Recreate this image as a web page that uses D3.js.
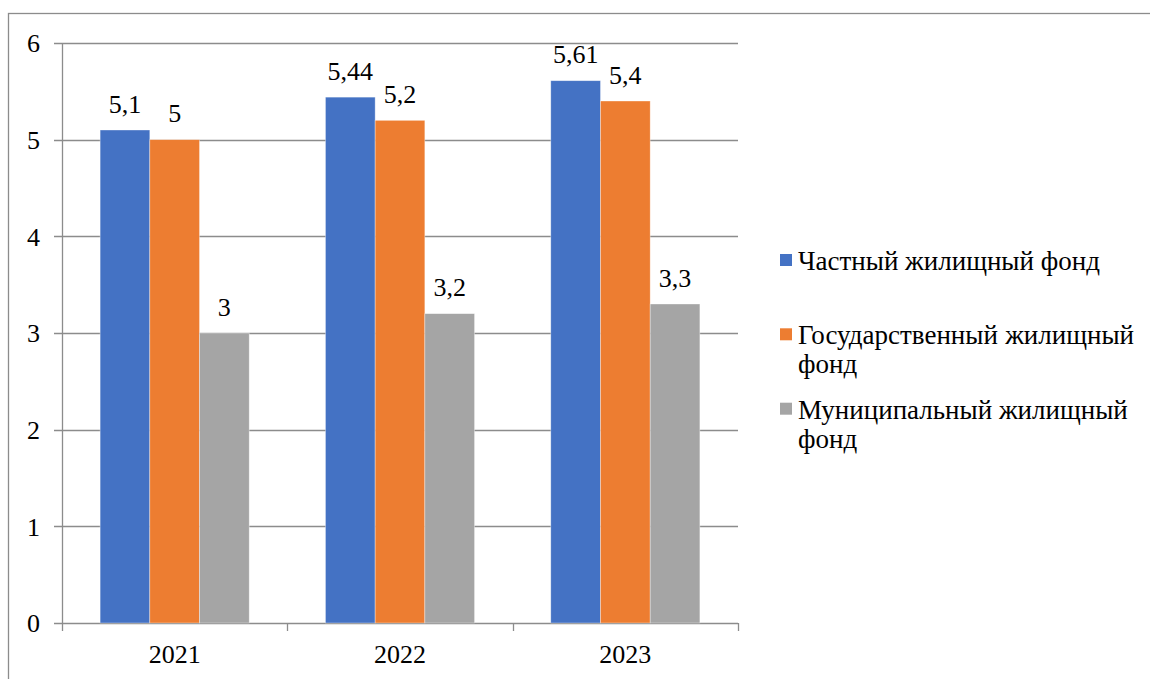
<!DOCTYPE html>
<html><head><meta charset="utf-8">
<script src="https://cdn.jsdelivr.net/npm/d3@7"></script>
<style>body{margin:0;background:#fff;} svg{display:block;}</style>
</head><body>
<svg id="chart" width="1150" height="679"></svg>
<script>
const categories = ["2021", "2022", "2023"];
const seriesNames = ["Частный жилищный фонд", "Государственный жилищный фонд", "Муниципальный жилищный фонд"];
const privateFund = [5.1, 5.44, 5.61];
const stateFund = [5, 5.2, 5.4];
const municipalFund = [3, 3.2, 3.3];
const yTicks = [0, 1, 2, 3, 4, 5, 6];
const legendLines = [["Частный жилищный фонд"], ["Государственный жилищный", "фонд"], ["Муниципальный жилищный", "фонд"]];
const legendLineEnds = [[1097], [1134], [1124]];
const colors = ["#4472C4", "#ED7D31", "#A5A5A5"];

const seriesValues = [privateFund, stateFund, municipalFund];
const svg = d3.select("#chart");
const FS = 26;
const FF = "'Liberation Serif'";

svg.append("rect").attr("x", 8.5).attr("y", 13.5).attr("width", 1300).attr("height", 800)
  .attr("fill", "none").attr("stroke", "#8c8c8c").attr("stroke-width", 1.3);

const x0 = d3.scaleBand().domain(categories).range([62, 738]).padding(0);
const x1 = d3.scaleBand().domain(d3.range(3)).range([0, x0.bandwidth()]).paddingInner(0).paddingOuter(0.767);
const y = d3.scaleLinear().domain([0, 6]).range([623, 43]);

svg.append("g").selectAll("line").data(yTicks).join("line")
  .attr("x1", 54).attr("x2", 738)
  .attr("y1", d => Math.round(y(d)) + 0.5).attr("y2", d => Math.round(y(d)) + 0.5)
  .attr("stroke", "#8c8c8c").attr("stroke-width", 1.3);

svg.append("line").attr("x1", 62.5).attr("x2", 62.5).attr("y1", y(6)).attr("y2", y(0))
  .attr("stroke", "#8c8c8c").attr("stroke-width", 1.3);

const bounds = categories.map(c => x0(c)).concat([x0(categories[2]) + x0.bandwidth()]);
svg.append("g").selectAll("line").data(bounds).join("line")
  .attr("x1", d => Math.round(d) + 0.5).attr("x2", d => Math.round(d) + 0.5)
  .attr("y1", y(0)).attr("y2", y(0) + 8)
  .attr("stroke", "#8c8c8c").attr("stroke-width", 1.3);

svg.append("g").selectAll("text").data(yTicks).join("text")
  .attr("x", 40).attr("y", d => y(d) + 9.3)
  .attr("text-anchor", "end").attr("font-size", FS).style("font-family", FF)
  .attr("fill", "#000").text(d => d);

svg.append("g").selectAll("text").data(categories).join("text")
  .attr("x", d => x0(d) + x0.bandwidth() / 2).attr("y", 663)
  .attr("text-anchor", "middle").attr("font-size", FS).style("font-family", FF)
  .attr("fill", "#000").text(d => d);

const data = [];
categories.forEach((c, i) => seriesValues.forEach((s, j) => data.push({c, j, v: s[i]})));
svg.append("g").selectAll("rect").data(data).join("rect")
  .attr("x", d => x0(d.c) + x1(d.j)).attr("width", x1.bandwidth())
  .attr("y", d => y(d.v)).attr("height", d => y(0) - y(d.v))
  .attr("fill", d => colors[d.j]).attr("stroke", "#fff").attr("stroke-opacity", 0.5).attr("stroke-width", 0.7);

svg.append("g").selectAll("text").data(data).join("text")
  .attr("x", d => x0(d.c) + x1(d.j) + x1.bandwidth() / 2).attr("y", d => y(d.v) - 17.5)
  .attr("text-anchor", "middle").attr("font-size", FS).style("font-family", FF)
  .attr("fill", "#000").text(d => String(d.v).replace(".", ","));

const legendBase = [270, 344.3, 418.7];
const lg = svg.append("g");
legendLines.forEach((lines, i) => {
  lg.append("rect").attr("x", 780).attr("y", legendBase[i] - 16).attr("width", 12).attr("height", 12).attr("fill", colors[i]);
  lines.forEach((ln, k) => {
    const t = lg.append("text").attr("font-size", 27).style("font-family", FF).attr("fill", "#000")
      .attr("x", 798).attr("y", legendBase[i] + k * 29).text(ln);
    const spaces = (ln.match(/ /g) || []).length;
    const end = legendLineEnds[i][k];
    if (spaces && end) {
      const w = t.node().getComputedTextLength();
      const ws = (end - 798 - w) / spaces;
      t.attr("word-spacing", Math.max(0, ws));
    }
  });
});
</script>
</body></html>
